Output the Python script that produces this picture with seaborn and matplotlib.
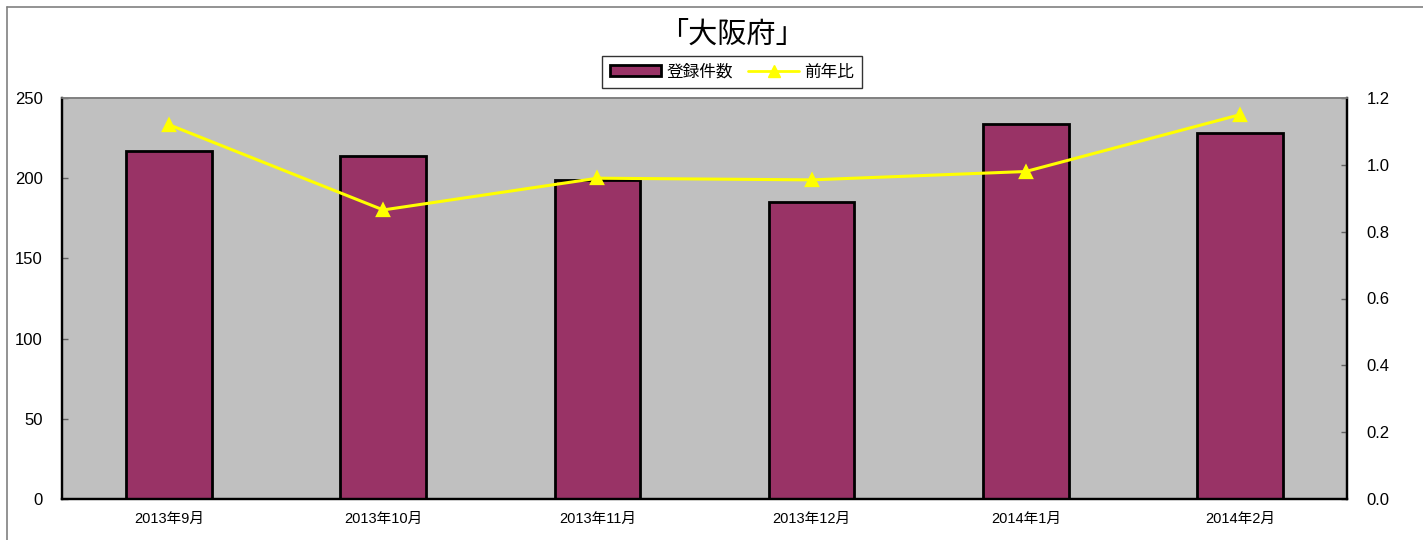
import matplotlib
matplotlib.use("Agg")
import matplotlib.pyplot as plt
from matplotlib.patches import Patch
from matplotlib.lines import Line2D
import seaborn as sns
import pandas as pd

# Monthly registrations and year-over-year ratio for Osaka
months = ["2013年9月", "2013年10月", "2013年11月", "2013年12月", "2014年1月", "2014年2月"]
registrations = [217, 214, 199, 185, 234, 228]
yoy_ratio = [1.12, 0.865, 0.96, 0.955, 0.98, 1.15]

title = "「大阪府」"
bar_label = "登録件数"
line_label = "前年比"

sns.set_theme(style="white")
plt.rcParams["font.family"] = ["Liberation Sans", "Noto Sans CJK JP", "DejaVu Sans"]
for key in ("text.color", "axes.labelcolor", "xtick.color", "ytick.color"):
    plt.rcParams[key] = "black"

df = pd.DataFrame({"month": months, "count": registrations, "ratio": yoy_ratio})

bar_color = "#993366"
line_color = "#FFFF00"

fig = plt.figure(figsize=(14.23, 5.4), dpi=100)
ax = fig.add_axes([62 / 1423, 41 / 540, 1285 / 1423, 401 / 540])
ax.set_facecolor("#C0C0C0")

sns.barplot(data=df, x="month", y="count", ax=ax, color=bar_color,
            saturation=1, width=0.4, edgecolor="black", linewidth=2, zorder=2)
ax.set_ylim(0, 250)
ax.set_yticks([0, 50, 100, 150, 200, 250])
ax.set_xlim(-0.5, len(months) - 0.5)
ax.set_xlabel("")
ax.set_ylabel("")

ax2 = ax.twinx()
sns.pointplot(data=df, x="month", y="ratio", ax=ax2, color=line_color,
              markers="^", linestyles="-", markersize=9, linewidth=2.2, zorder=3)
ax2.set_ylim(0, 1.2)
ratio_ticks = [0.0, 0.2, 0.4, 0.6, 0.8, 1.0, 1.2]
ax2.set_yticks(ratio_ticks)
ax2.set_yticklabels([f"{v:.1f}" for v in ratio_ticks])
ax2.set_ylabel("")
ax2.set_xlim(-0.5, len(months) - 0.5)

# Category separators as small inward ticks on the bottom axis
ax.set_xticks(range(len(months)))
ax.set_xticklabels(months, fontsize=10.5)
ax.set_xticks([i + 0.5 for i in range(len(months) - 1)], minor=True)
ax.tick_params(axis="x", which="major", length=0, pad=9)
ax.tick_params(axis="x", which="minor", direction="in", length=4, width=1, color="#808080")
ax.tick_params(axis="y", direction="in", length=4, width=1, color="#606060",
               labelsize=12, pad=14, left=True)
ax2.tick_params(axis="y", direction="in", length=4, width=1, color="#606060",
                labelsize=12, pad=14, right=True)

for a in (ax, ax2):
    for side in ("left", "bottom", "right"):
        a.spines[side].set_visible(True)
        a.spines[side].set_color("black")
        a.spines[side].set_linewidth(1.6)
    a.spines["top"].set_visible(True)
    a.spines["top"].set_color("#808080")
    a.spines["top"].set_linewidth(1.2)

fig.text(732 / 1423, 1 - 35 / 540, title, ha="center", va="center", fontsize=21,
         family=["Noto Sans CJK JP", "DejaVu Sans"])

handles = [
    Patch(facecolor=bar_color, edgecolor="black", linewidth=2),
    Line2D([0], [0], color=line_color, linewidth=2, marker="^", markersize=8),
]
leg = fig.legend(handles, [bar_label, line_label], loc="center",
                 bbox_to_anchor=(732 / 1423, 1 - 72 / 540), ncol=2,
                 frameon=True, fancybox=False, edgecolor="black",
                 handlelength=3.1, handleheight=0.6, columnspacing=0.9,
                 borderpad=0.45, handletextpad=0.3,
                 prop={"family": ["Noto Sans CJK JP", "DejaVu Sans"], "size": 12})
leg.get_frame().set_linewidth(1)

# Outer chart frame
fig.add_artist(Line2D([7 / 1423, 7 / 1423], [0, 1 - 7 / 540], transform=fig.transFigure,
                      color="#808080", linewidth=1.2))
fig.add_artist(Line2D([7 / 1423, 1], [1 - 7 / 540, 1 - 7 / 540], transform=fig.transFigure,
                      color="#808080", linewidth=1.2))

fig.savefig("out.png", dpi=100, facecolor="white")
